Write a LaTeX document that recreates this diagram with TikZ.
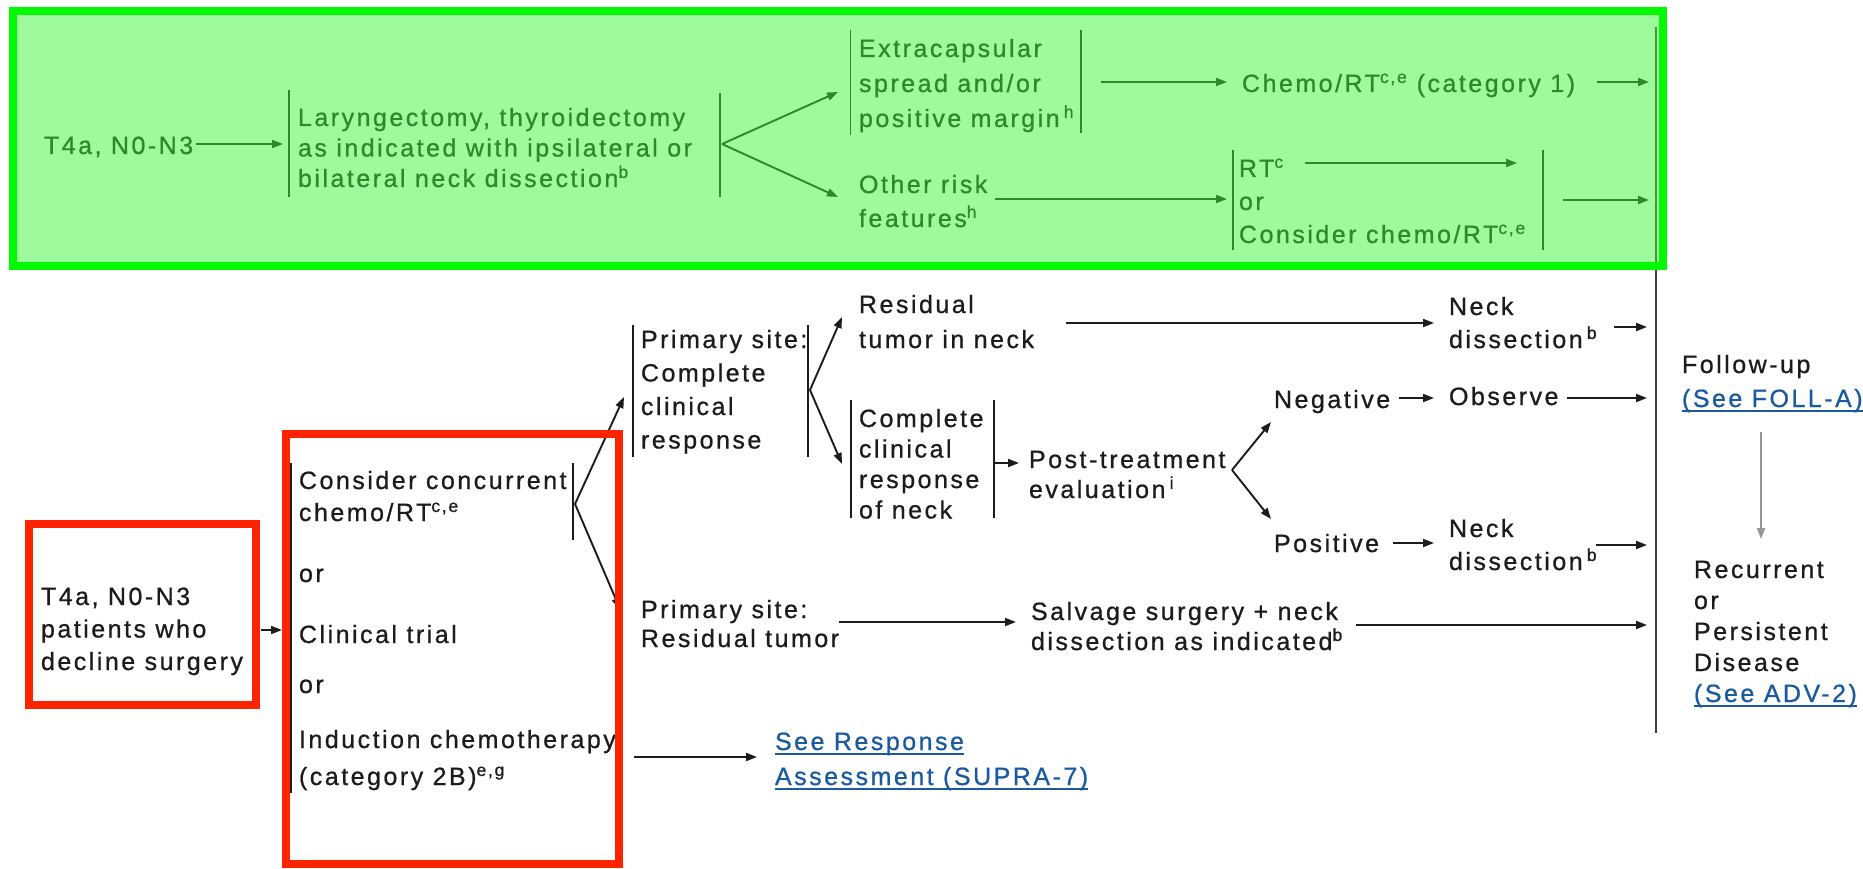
\documentclass[tikz,border=0pt]{standalone}
\usepackage{fontspec}
\setmainfont{Liberation Sans}[LetterSpace=10, FakeBold=0.8]
\usetikzlibrary{arrows.meta}

\definecolor{ink}{RGB}{28,28,28}
\definecolor{linkblue}{RGB}{25,90,160}
\definecolor{hlred}{RGB}{255,36,0}
\definecolor{hlgreen}{RGB}{0,250,0}
\definecolor{washgreen}{RGB}{60,247,60}
\definecolor{softgray}{RGB}{150,150,150}

% left-aligned stack of lines; first argument is the line pitch in pt
\newcommand\ml[2]{\vtop{\baselineskip=#1pt\lineskiplimit=-1000pt\lineskip=0pt\halign{##\hfil\cr#2\crcr}}}
% underlined link text
\newcommand\linktext[1]{\setbox0=\hbox{#1}\rlap{\vrule height -2.5pt depth 4.5pt width \wd0}\box0}

\tikzset{
  txt/.style={anchor=base west, inner sep=0pt, outer sep=0pt, text=ink,
              font=\fontsize{25}{31}\selectfont},
  lnk/.style={txt, text=linkblue},
  arr/.style={draw=ink, line width=1.9pt, -{Triangle[length=11pt,width=8pt]}},
  grayarr/.style={draw=softgray, line width=2pt, -{Triangle[length=11pt,width=8pt]}},
  barline/.style={draw=ink, line width=1.8pt},
  spine/.style={draw=ink!85, line width=2.4pt},
  redbox/.style={draw=hlred, line width=8pt},
  greenwash/.style={fill=washgreen, opacity=0.5},
  greenframe/.style={draw=hlgreen, line width=8pt},
}

\begin{document}
\begin{tikzpicture}[x=1pt, y=-1pt]
\fill[white] (0,0) rectangle (1863,869);
\useasboundingbox (0,0) rectangle (1863,869);

% ---------------- surgical pathway ----------------
\node[txt] (tA) at (44,154) {T4a, N0-N3};
\node[txt] (tLar) at (298,126) {\ml{30.5}{Laryngectomy, thyroidectomy\cr as indicated with ipsilateral or\cr bilateral neck dissection\textsuperscript{b}}};
\node[txt] (tExt) at (859,57) {\ml{35}{Extracapsular\cr spread and/or\cr positive margin\,\textsuperscript{h}}};
\node[txt] (tChemo) at (1242,92) {Chemo/RT\textsuperscript{c,e} (category 1)};
\node[txt] (tOther) at (859,193) {\ml{34}{Other risk\cr features\textsuperscript{h}}};
\node[txt] (tRT) at (1239,177) {\ml{33}{RT\textsuperscript{c}\cr or\cr Consider chemo/RT\textsuperscript{c,e}}};

\draw[barline] (289,90) -- (289,197);
\draw[barline] (720,93) -- (720,197);
\draw[barline] (850.5,30) -- (850.5,135);
\draw[barline] (1081,30) -- (1081,133);
\draw[barline] (1233,150) -- (1233,250);
\draw[barline] (1543,150) -- (1543,250);

\coordinate (a1s) at (196,144);   \coordinate (a1e) at (283,144);
\coordinate (v1)  at (722,144);
\coordinate (v1u) at (838,92);    \coordinate (v1d) at (838,197);
\coordinate (a2s) at (1101,82);   \coordinate (a2e) at (1227,82);
\coordinate (a3s) at (1597,82);   \coordinate (a3e) at (1649,82);
\coordinate (a4s) at (995,199);   \coordinate (a4e) at (1227,199);
\coordinate (a5s) at (1305,163);  \coordinate (a5e) at (1517,163);
\coordinate (a6s) at (1563,200);  \coordinate (a6e) at (1649,200);

\draw[arr] (a1s) -- (a1e);
\draw[arr] (v1) -- (v1u);
\draw[arr] (v1) -- (v1d);
\draw[arr] (a2s) -- (a2e);
\draw[arr] (a3s) -- (a3e);
\draw[arr] (a4s) -- (a4e);
\draw[arr] (a5s) -- (a5e);
\draw[arr] (a6s) -- (a6e);

% common collecting line on the right
\coordinate (spTop) at (1656,27);
\coordinate (spBot) at (1656,733);
\draw[spine] (spTop) -- (spBot);

% ---------------- non-surgical pathway ----------------
\node[txt] (tDec) at (41,605) {\ml{32.5}{T4a, N0-N3\cr patients who\cr decline surgery}};
\node[txt] (tCon) at (299,489) {\ml{32}{Consider concurrent\cr chemo/RT\textsuperscript{c,e}}};
\node[txt] (tOr1) at (299,582) {or};
\node[txt] (tTrial) at (299,643) {Clinical trial};
\node[txt] (tOr2) at (299,693) {or};
\node[txt] (tInd) at (299,748) {\ml{37}{Induction chemotherapy\cr (category 2B)\textsuperscript{e,g}}};
\node[txt] (tPS) at (641,348) {\ml{33.5}{Primary site:\cr Complete\cr clinical\cr response}};
\node[txt] (tRes) at (859,313) {\ml{35}{Residual\cr tumor in neck}};
\node[txt] (tND1) at (1449,315) {\ml{33}{Neck\cr dissection\,\textsuperscript{b}}};
\node[txt] (tCC) at (859,427) {\ml{30.5}{Complete\cr clinical\cr response\cr of neck}};
\node[txt] (tPost) at (1029,468) {\ml{30}{Post-treatment\cr evaluation\,\textsuperscript{i}}};
\node[txt] (tNeg) at (1274,408) {Negative};
\node[txt] (tObs) at (1449,405) {Observe};
\node[txt] (tPos) at (1274,552) {Positive};
\node[txt] (tND2) at (1449,537) {\ml{33}{Neck\cr dissection\,\textsuperscript{b}}};
\node[txt] (tPSR) at (641,618) {\ml{29}{Primary site:\cr Residual tumor}};
\node[txt] (tSalv) at (1031,620) {\ml{30}{Salvage surgery + neck\cr dissection as indicated\textsuperscript{b}}};
\node[lnk] (tSee) at (775,750) {\ml{35}{\linktext{See Response}\cr\linktext{Assessment (SUPRA-7)}}};
\node[txt] (tFol) at (1682,373) {\ml{34}{Follow-up\cr{\color{linkblue}\linktext{(See FOLL-A)}}}};
\node[txt] (tRec) at (1694,578) {\ml{31}{Recurrent\cr or\cr Persistent\cr Disease\cr{\color{linkblue}\linktext{(See ADV-2)}}}};

\draw[barline] (291,463) -- (291,793);
\draw[barline] (573,463) -- (573,540);
\draw[barline] (633,325) -- (633,457);
\draw[barline] (808,325) -- (808,457);
\draw[barline] (851,400) -- (851,518);
\draw[barline] (994,400) -- (994,518);

\coordinate (b1s) at (261,630);   \coordinate (b1e) at (282,630);
\coordinate (v2)  at (575,504);
\coordinate (v2u) at (624,397);   \coordinate (v2d) at (620,609);
\coordinate (v3)  at (810,390);
\coordinate (v3u) at (842,317);   \coordinate (v3d) at (842,464);
\coordinate (b2s) at (1066,323);  \coordinate (b2e) at (1434,323);
\coordinate (b3s) at (1614,327);  \coordinate (b3e) at (1647,327);
\coordinate (b4s) at (994,463);   \coordinate (b4e) at (1019,463);
\coordinate (v4)  at (1232,470);
\coordinate (v4u) at (1271,422);  \coordinate (v4d) at (1271,519);
\coordinate (b5s) at (1399,398);  \coordinate (b5e) at (1434,398);
\coordinate (b6s) at (1567,398);  \coordinate (b6e) at (1647,398);
\coordinate (b7s) at (1393,543);  \coordinate (b7e) at (1434,543);
\coordinate (b8s) at (1596,545);  \coordinate (b8e) at (1647,545);
\coordinate (b9s) at (839,622);   \coordinate (b9e) at (1016,622);
\coordinate (b10s) at (1356,625); \coordinate (b10e) at (1647,625);
\coordinate (b11s) at (634,757);  \coordinate (b11e) at (757,757);
\coordinate (g1s) at (1761,432);  \coordinate (g1e) at (1761,539);

\draw[arr] (b1s) -- (b1e);
\draw[arr] (v2) -- (v2u);
\draw[arr] (v2) -- (v2d);
\draw[arr] (v3) -- (v3u);
\draw[arr] (v3) -- (v3d);
\draw[arr] (b2s) -- (b2e);
\draw[arr] (b3s) -- (b3e);
\draw[arr] (b4s) -- (b4e);
\draw[arr] (v4) -- (v4u);
\draw[arr] (v4) -- (v4d);
\draw[arr] (b5s) -- (b5e);
\draw[arr] (b6s) -- (b6e);
\draw[arr] (b7s) -- (b7e);
\draw[arr] (b8s) -- (b8e);
\draw[arr] (b9s) -- (b9e);
\draw[arr] (b10s) -- (b10e);
\draw[arr] (b11s) -- (b11e);
\draw[grayarr] (g1s) -- (g1e);

% ---------------- highlight frames ----------------
\fill[greenwash] (13,11) rectangle (1663,266);
\draw[greenframe] (13,11) rectangle (1663,266);
\draw[redbox] (28.5,523.5) rectangle (255.5,704.5);
\draw[redbox] (286,434) rectangle (619,864);
\end{tikzpicture}
\end{document}
